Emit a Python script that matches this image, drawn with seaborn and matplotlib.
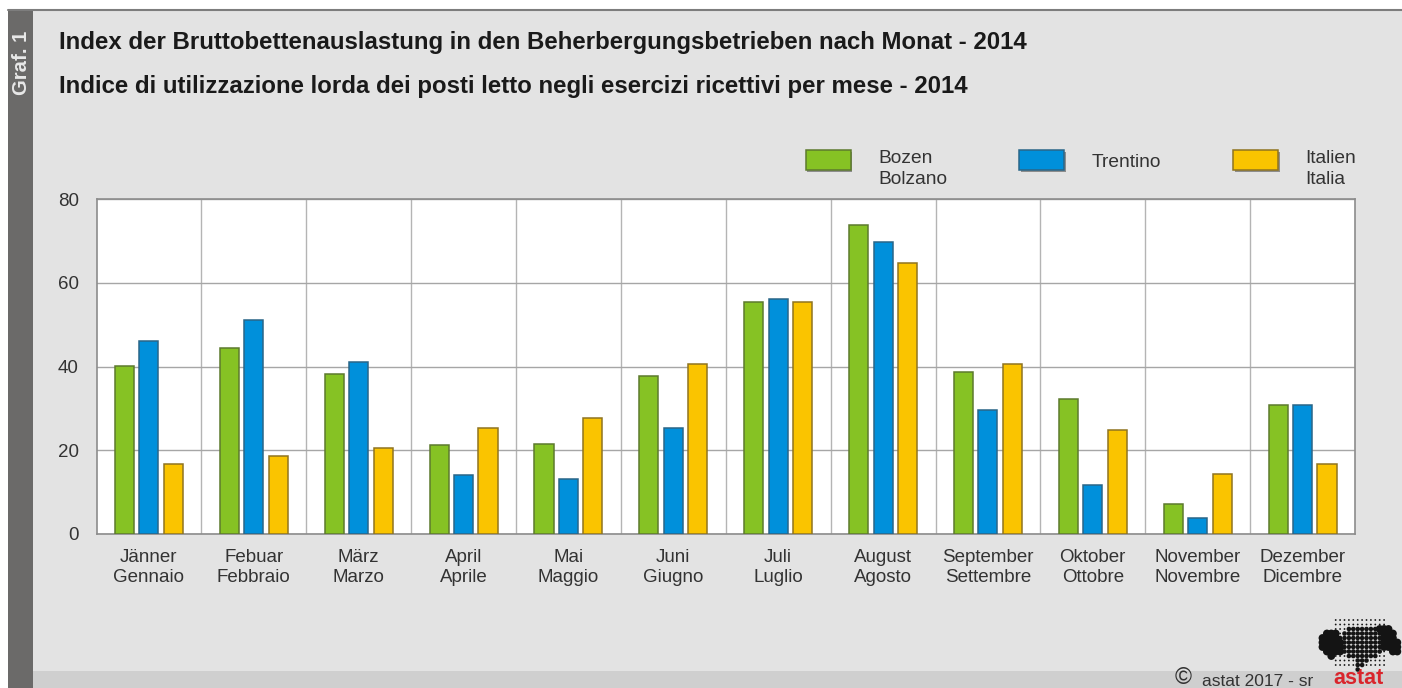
import numpy as np
import pandas as pd
import matplotlib
matplotlib.use("Agg")
import matplotlib.pyplot as plt
import matplotlib.patheffects as pe
from matplotlib.patches import Rectangle
import seaborn as sns

months = ["Jänner\nGennaio", "Febuar\nFebbraio", "März\nMarzo", "April\nAprile",
          "Mai\nMaggio", "Juni\nGiugno", "Juli\nLuglio", "August\nAgosto",
          "September\nSettembre", "Oktober\nOttobre", "November\nNovembre",
          "Dezember\nDicembre"]
regions = ["Bozen\nBolzano", "Trentino", "Italien\nItalia"]

bozen = [40.2, 44.4, 38.2, 21.3, 21.5, 37.7, 55.4, 73.9, 38.6, 32.2, 7.2, 30.8]
trentino = [46.0, 51.0, 41.0, 14.0, 13.2, 25.3, 56.2, 69.7, 29.5, 11.8, 3.8, 30.8]
italien = [16.8, 18.6, 20.6, 25.2, 27.8, 40.7, 55.5, 64.6, 40.7, 24.8, 14.4, 16.6]

colors = ["#86c224", "#0090db", "#fac400"]
edges = ["#5d7a2e", "#2a6688", "#8f7420"]

title_de = "Index der Bruttobettenauslastung in den Beherbergungsbetrieben nach Monat - 2014"
title_it = "Indice di utilizzazione lorda dei posti letto negli esercizi ricettivi per mese - 2014"

# logo dot grid: o small, O medium, X big (merges into the blob)
logo_rows = ["...oooooooooooo...",
             "...oooooooooooo...",
             "...oooOOOOOOOXXX..",
             ".XXXoOOOOOOOOOXXX.",
             "XXXXOOOOOOOOOOXXX.",
             "XXXXXOOOOOOOOOXXXX",
             "XXXXXOOOOOOOOOXXXX",
             ".XXXXOOOOOOOOOo.XX",
             "..XoooOOOOOOOoo...",
             "...oooooOOOoooo...",
             "...oooooOOooooo...",
             "........O........."]
logo_sizes = {"o": 1.7, "O": 11, "X": 32}

W, H = 1402, 688

sns.set_theme(style="white")
plt.rcParams["font.family"] = ["Liberation Sans", "DejaVu Sans"]

df = pd.DataFrame({"Monat": months, regions[0]: bozen, regions[1]: trentino, regions[2]: italien})
df = df.melt(id_vars="Monat", var_name="Region", value_name="Index")

fig = plt.figure(figsize=(W / 100, H / 100), dpi=100, facecolor="white")

# page furniture in pixel coordinates
bg = fig.add_axes([0, 0, 1, 1], zorder=0)
bg.set_xlim(0, W)
bg.set_ylim(H, 0)
bg.axis("off")
bg.add_patch(Rectangle((8, 9), W - 8, H - 9, fc="#e3e3e3", ec="none"))
bg.add_patch(Rectangle((33, 671), W - 33, 17, fc="#cfcfcf", ec="none"))
bg.add_patch(Rectangle((8, 9), 25, H - 9, fc="#6b6a69", ec="none"))
bg.plot([8, W], [9.5, 9.5], color="#7d7d7d", lw=1.5)
bg.text(21.5, 31, "Graf. 1", rotation=90, color="#e8e8e8", fontsize=14.6, weight="bold",
        ha="center", va="top")
bg.text(59, 42, title_de, fontsize=17.3, weight="bold", color="#1a1a1a", va="center")
bg.text(59, 86.5, title_it, fontsize=17.3, weight="bold", color="#1a1a1a", va="center")
bg.text(1175, 678, "©", fontsize=16.6, color="#333333", va="center")
bg.text(1202, 681, "astat 2017 - sr", fontsize=12.5, color="#333333", va="center")
bg.text(1359, 683.5, "astat", fontsize=15.5, weight="bold", color="#d9252c", va="baseline", ha="center")

# logo
xs, ys, sz = [], [], []
for r, row in enumerate(logo_rows):
    for c, ch in enumerate(row):
        if ch != ".":
            xs.append(1322.5 + c * 4.4)
            ys.append(620 + r * 4.5)
            sz.append(logo_sizes[ch])
bg.scatter(xs, ys, s=sz, color="#141414", linewidths=0, marker="o")

ax = fig.add_axes([96.5 / W, 1 - 534 / H, (1355 - 96.5) / W, (534 - 199) / H], zorder=1)
sns.barplot(df, x="Monat", y="Index", hue="Region", palette=colors, width=0.7, gap=0.22,
            saturation=1, linewidth=1.1, ax=ax, zorder=3)

for cont, edge in zip(ax.containers, edges):
    for bar in cont:
        bar.set_edgecolor(edge)

ax.set_xlim(-0.5, 11.5)
ax.set_ylim(0, 80)
ax.set_yticks([0, 20, 40, 60, 80])
ax.set_xticks(np.arange(0.5, 11), minor=True)
ax.set_xlabel("")
ax.set_ylabel("")
ax.grid(True, axis="y", color="#a6a6a6", lw=1.0, zorder=0)
ax.grid(True, axis="x", which="minor", color="#b4b4b4", lw=1.0, zorder=0)
ax.grid(False, axis="x", which="major")
ax.set_axisbelow(True)
ax.tick_params(axis="x", which="both", length=0, pad=10.5, labelsize=13.5, labelcolor="#333333")
ax.tick_params(axis="y", length=0, pad=12.7, labelsize=13.5, labelcolor="#333333")
for label in ax.get_xticklabels():
    label.set_linespacing(1.3)
for spine in ax.spines.values():
    spine.set_color("#8c8c8c")
    spine.set_linewidth(1.2)

handles, labels = ax.get_legend_handles_labels()
leg = ax.legend(handles, labels, ncol=3, loc="lower right", bbox_to_anchor=(1356 / W, 1 - 188 / H),
                bbox_transform=fig.transFigure, frameon=False, fontsize=13.8, labelcolor="#333333",
                handlelength=2.35, handleheight=1.26, handletextpad=1.42, columnspacing=3.76,
                borderpad=0, borderaxespad=0, labelspacing=0)
for handle, edge in zip(leg.get_patches(), edges):
    handle.set_edgecolor(edge)
    handle.set_linewidth(1.1)
    # swatches sit level with the first text line, 9 px higher than legend places them
    handle.set_y(handle.get_y() + 6.5)
    handle.set_path_effects([pe.SimplePatchShadow(offset=(1.2, -1.2), shadow_rgbFace="#555555", alpha=0.6),
                             pe.Normal()])
for text in leg.get_texts():
    text.set_linespacing(1.3)
leg.get_texts()[1].set_position((0, 9))

fig.savefig("out.png", dpi=100, facecolor=fig.get_facecolor())
